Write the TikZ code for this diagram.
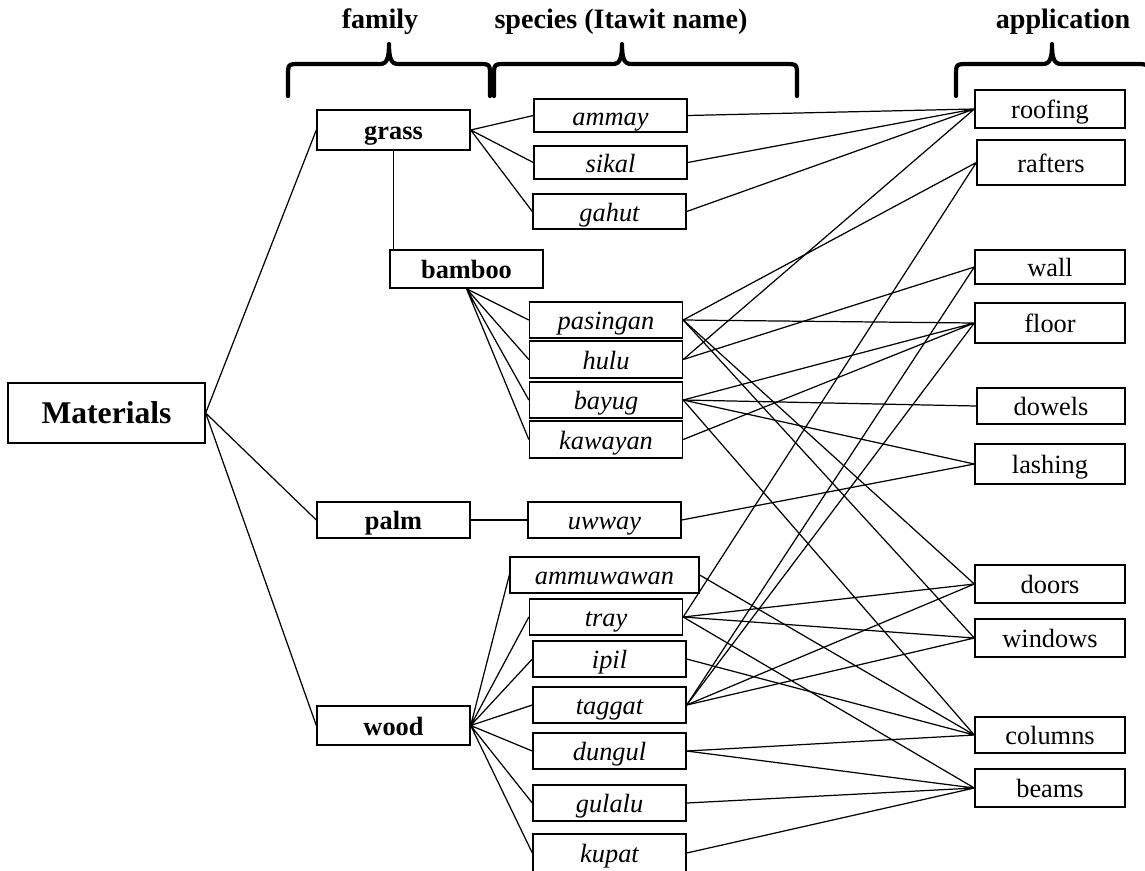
\documentclass[tikz,border=0pt]{standalone}
\usepackage{fontspec}
\setmainfont{Liberation Serif}

% estilos de las cajas y lineas
\tikzset{
  caja/.style={draw, line width=0.8pt, inner sep=0pt, minimum width=3.06cm, minimum height=0.74cm,
    text height=13pt, text depth=2pt, font=\fontsize{15}{18}\selectfont},
  familia/.style={caja, font=\fontsize{15}{18}\selectfont\bfseries},
  especie/.style={caja, font=\fontsize{15}{18}\selectfont\itshape},
  uso/.style={caja, minimum width=3.0cm},
  enlace/.style={line width=0.7pt},
  llave/.style={line width=2.4pt, line cap=round, line join=round},
  titulo/.style={font=\fontsize{16}{19}\selectfont\bfseries}
}

% llave horizontal: extremo izq, punta, extremo der
\newcommand{\corchete}[3]{%
  \draw[llave] (#1,96) -- (#1,76) .. controls (#1,64) .. ({#1+12},64)
    -- ({#2-9},64) .. controls ({#2-2},64) and (#2,58) .. (#2,44)
    .. controls (#2,58) and ({#2+2},64) .. ({#2+9},64)
    -- ({#3-12},64) .. controls (#3,64) .. (#3,76) -- (#3,96);}

\begin{document}
\begin{tikzpicture}[x=0.02cm, y=-0.02cm]
  \useasboundingbox (0,0) rectangle (1145,870);

  % Titulos y llaves
  \node[titulo] (tfam) at (380,22) {family};
  \node[titulo] (tesp) at (621,22) {species (Itawit name)};
  \node[titulo] (tapl) at (1063,22) {application};
  \corchete{288}{389}{490}
  \corchete{494}{622}{797}
  \corchete{956}{1052}{1148}

  % Materiales y familias
  \node[caja, font=\fontsize{18}{22}\selectfont\bfseries, minimum width=3.94cm, minimum height=1.2cm,
    text height=15pt, text depth=3pt] (mat) at (106.5,413) {Materials};
  \node[familia, minimum height=0.8cm] (grass) at (393.5,130) {grass};
  \node[familia, minimum height=0.76cm] (bamboo) at (466.5,269) {bamboo};
  \node[familia, minimum height=0.72cm] (palm) at (393.5,520) {palm};
  \node[familia, minimum height=0.78cm] (wood) at (393.5,725.5) {wood};

  % Especies
  \node[especie, minimum height=0.66cm] (ammay) at (610.5,115.5) {ammay};
  \node[especie, minimum height=0.66cm] (sikal) at (610.5,162.5) {sikal};
  \node[especie, minimum height=0.7cm] (gahut) at (609.5,211.5) {gahut};
  \node[especie, minimum height=0.72cm] (pasingan) at (606,320) {pasingan};
  \node[especie, minimum height=0.74cm] (hulu) at (606,359.5) {hulu};
  \node[especie, minimum height=0.72cm] (bayug) at (606,400) {bayug};
  \node[especie, minimum height=0.74cm] (kawayan) at (606,439.5) {kawayan};
  \node[especie, minimum height=0.72cm] (uwway) at (604.5,520) {uwway};
  \node[especie, minimum width=3.78cm, minimum height=0.72cm] (ammuwawan) at (604.5,575) {ammuwawan};
  \node[especie, minimum height=0.72cm] (tray) at (606,617) {tray};
  \node[especie, minimum height=0.72cm] (ipil) at (609.5,659) {ipil};
  \node[especie, minimum height=0.72cm] (taggat) at (609.5,705) {taggat};
  \node[especie, minimum height=0.72cm] (dungul) at (609.5,751) {dungul};
  \node[especie, minimum height=0.72cm] (gulalu) at (609.5,803) {gulalu};
  \node[especie, minimum height=0.76cm] (kupat) at (609.5,853) {kupat};

  % Usos
  \node[uso, minimum height=0.76cm] (roofing) at (1050,109) {roofing};
  \node[uso, minimum width=2.96cm, minimum height=0.9cm] (rafters) at (1051,162.5) {rafters};
  \node[uso, minimum height=0.68cm] (wall) at (1050,267) {wall};
  \node[uso, minimum height=0.8cm] (floor) at (1050,323) {floor};
  \node[uso, minimum width=2.96cm, minimum height=0.72cm] (dowels) at (1051,406) {dowels};
  \node[uso, minimum height=0.8cm] (lashing) at (1050,464) {lashing};
  \node[uso, minimum height=0.76cm] (doors) at (1050,584) {doors};
  \node[uso, minimum height=0.76cm] (windows) at (1050,638) {windows};
  \node[uso, minimum height=0.72cm] (columns) at (1050,735) {columns};
  \node[uso, minimum height=0.76cm] (beams) at (1050,788) {beams};

  % Ramas del arbol
  \draw[enlace] (mat.east) -- (grass.west) (mat.east) -- (palm.west) (mat.east) -- (wood.west);
  \draw[enlace] (grass.south) -- (grass.south |- bamboo.north);
  \draw[enlace] (grass.east) -- (ammay.west) (grass.east) -- (sikal.west) (grass.east) -- (gahut.west);
  \draw[enlace] (bamboo.south) -- (pasingan.west) (bamboo.south) -- (hulu.west)
    (bamboo.south) -- (bayug.west) (bamboo.south) -- (kawayan.west);
  \draw[enlace] (palm.east) -- (uwway.west);
  \draw[enlace] (wood.east) -- (ammuwawan.west) (wood.east) -- (tray.west) (wood.east) -- (ipil.west)
    (wood.east) -- (taggat.west) (wood.east) -- (dungul.west) (wood.east) -- (gulalu.west)
    (wood.east) -- (kupat.west);

  % Especie -> uso
  \draw[enlace] (ammay.east) -- (roofing.west) (sikal.east) -- (roofing.west)
    (gahut.east) -- (roofing.west) (hulu.east) -- (roofing.west);
  \draw[enlace] (pasingan.east) -- (rafters.west) (tray.east) -- (rafters.west);
  \draw[enlace] (hulu.east) -- (wall.west) (taggat.east) -- (wall.west);
  \draw[enlace] (pasingan.east) -- (floor.west) (bayug.east) -- (floor.west)
    (kawayan.east) -- (floor.west) (taggat.east) -- (floor.west);
  \draw[enlace] (bayug.east) -- (dowels.west);
  \draw[enlace] (bayug.east) -- (lashing.west) (uwway.east) -- (lashing.west);
  \draw[enlace] (pasingan.east) -- (doors.west) (tray.east) -- (doors.west) (taggat.east) -- (doors.west);
  \draw[enlace] (pasingan.east) -- (windows.west) (tray.east) -- (windows.west) (taggat.east) -- (windows.west);
  \draw[enlace] (ammuwawan.east) -- (columns.west) (bayug.east) -- (columns.west)
    (ipil.east) -- (columns.west) (dungul.east) -- (columns.west);
  \draw[enlace] (tray.east) -- (beams.west) (dungul.east) -- (beams.west)
    (gulalu.east) -- (beams.west) (kupat.east) -- (beams.west);
\end{tikzpicture}
\end{document}
